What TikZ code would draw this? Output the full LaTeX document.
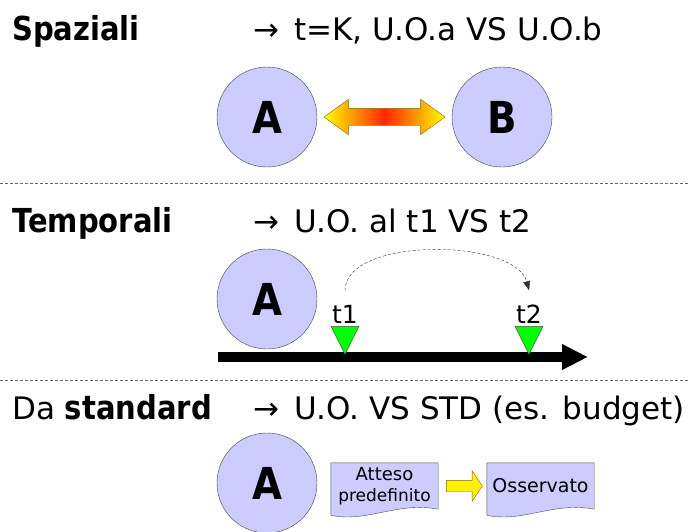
\documentclass[tikz,border=0pt]{standalone}
\usepackage{fontspec}
\setmainfont{DejaVu Sans}
\newfontfamily\headfont{DejaVu Sans}[FakeStretch=0.88]
\usetikzlibrary{positioning,calc,shapes.arrows,shapes.geometric,arrows.meta,backgrounds}
\definecolor{lavanda}{RGB}{204,204,255}
\definecolor{oliva}{RGB}{128,110,0}
\definecolor{verde}{RGB}{0,255,0}
\newcommand{\freccina}{→\ \hspace{5pt}}
\tikzset{
  capo/.style={anchor=base west, inner sep=0pt, font=\headfont\bfseries\fontsize{33}{40}\selectfont},
  nota/.style={anchor=base west, inner sep=0pt, font=\fontsize{31}{37}\selectfont},
  unita/.style={circle, draw=black!75, fill=lavanda, minimum size=100pt, inner sep=0pt,
    font=\headfont\bfseries\fontsize{44}{50}\selectfont},
  separa/.style={draw=black!60, dash pattern=on 3pt off 2pt},
  istante/.style={isosceles triangle, shape border rotate=-90, isosceles triangle stretches,
    minimum width=28pt, minimum height=28pt, inner sep=0pt, draw=black!70, fill=verde},
  doc/.style={minimum width=107pt, minimum height=46pt, inner sep=0pt, align=center},
}
% foglio con il bordo inferiore ondulato
\newcommand{\foglio}[1]{%
  \filldraw[draw=black!70, fill=lavanda] (#1.north west) -- (#1.north east) -- (#1.south east)
    .. controls ($(#1.south east)+(-40,-8)$) and ($(#1.south west)+(35,14)$) .. ($(#1.south west)+(0,6)$) -- cycle;}

\begin{document}
\begin{tikzpicture}[x=1pt, y=-1pt]
  \useasboundingbox (0,0) rectangle (688,531);

  % spaziali
  \node[capo] (spaziali) at (12,40) {Spaziali};
  \node[nota] (nota1) at (253,40) {\freccina t=K, U.O.a VS U.O.b};
  \node[unita] (a1) at (267,117) {A};
  \node[unita] (b1) at (502,117) {B};
  \node[double arrow, draw=oliva, minimum height=121pt, inner xsep=0pt, inner ysep=8.5pt,
    double arrow head extend=9pt, double arrow tip angle=72,
    left color=yellow, right color=yellow, middle color=red!85!yellow] (scambio)
    at ($(a1.east)!0.5!(b1.west)$) {};

  \draw[separa] (0,183) -- (688,183);

  % temporali
  \node[capo] (temporali) at (12,232) {Temporali};
  \node[nota] (nota2) at (253,232) {\freccina U.O. al t1 VS t2};
  \node[unita] (a2) at (267,299) {A};
  \coordinate (inizio) at (218,357);
  \coordinate (fine) at (588,357);
  \draw[line width=10pt, -{Triangle[length=26pt,width=24pt]}] (inizio) -- (fine);
  \foreach \i/\x in {1/345,2/529} {
    \node[istante] (tri\i) at (\x,335) {};
    \node[above=2pt of tri\i, inner sep=0pt, font=\fontsize{25}{30}\selectfont] (t\i) {t\i};
  }
  \draw[black!80, dash pattern=on 3pt off 2pt, -{Triangle[length=9pt,width=7pt]}]
    ([yshift=15pt]t1.north) to[out=90, in=105, looseness=0.75] ([yshift=15pt]t2.north);

  \draw[separa] (0,380) -- (688,380);

  % da standard
  \node[nota] (standard) at (12,419) {Da {\headfont\bfseries\fontsize{33}{40}\selectfont standard}};
  \node[nota] (nota3) at (253,419) {\freccina U.O. VS STD (es. budget)};
  \node[unita] (a3) at (267,483) {A};
  \node[doc, font=\fontsize{18}{21}\selectfont] (atteso) at (384.5,486)
    {Atteso\\{\fontsize{17}{21}\selectfont predefinito}};
  \node[doc, font=\fontsize{19}{23}\selectfont] (osservato) at (540.5,486) {Osservato};
  \begin{pgfonlayer}{background}
    \foglio{atteso}
    \foglio{osservato}
  \end{pgfonlayer}
  \node[single arrow, draw=oliva, fill=yellow, minimum height=36pt, inner xsep=0pt, inner ysep=5.5pt,
    single arrow head extend=9.5pt, single arrow tip angle=112] (freccia)
    at ($(atteso.east)!0.5!(osservato.west)$) {};
\end{tikzpicture}
\end{document}
